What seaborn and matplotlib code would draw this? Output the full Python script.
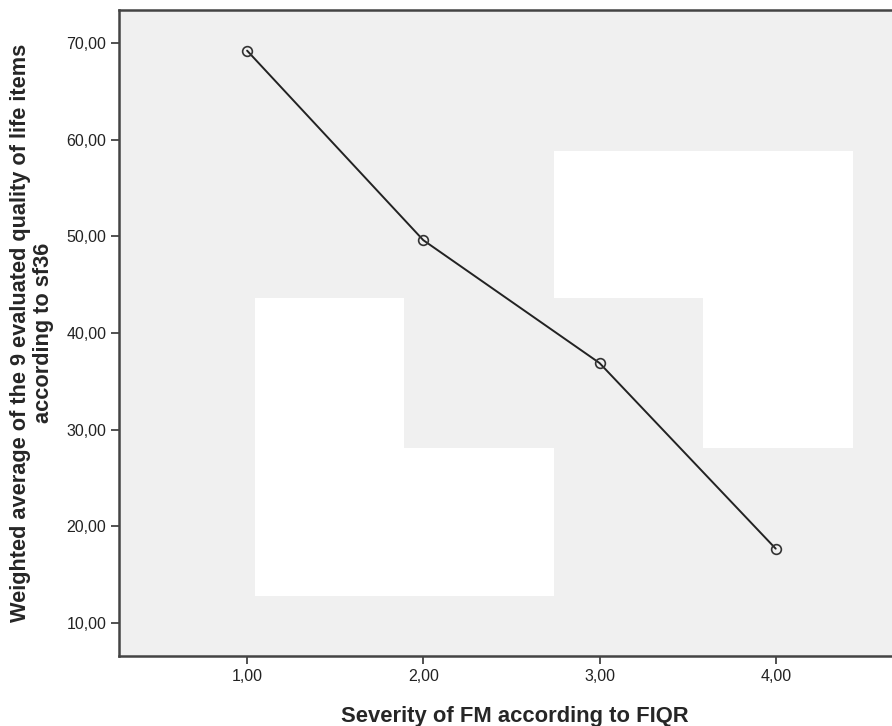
import matplotlib
matplotlib.use("Agg")
import matplotlib.pyplot as plt
import matplotlib.patches as mpatches
import pandas as pd
import seaborn as sns

# data
severity = [1.0, 2.0, 3.0, 4.0]
quality = [69.2, 49.6, 36.9, 17.7]
x_ticks = [1.0, 2.0, 3.0, 4.0]
y_ticks = [10.0, 20.0, 30.0, 40.0, 50.0, 60.0, 70.0]

sns.set_theme(style="white")
plt.rcParams['font.family'] = ['Liberation Sans', 'DejaVu Sans']

df = pd.DataFrame({"severity": severity, "quality": quality})

fig = plt.figure(figsize=(8.92, 7.26), dpi=100)
ax = fig.add_axes([0.1334, 0.0964, 0.8666, 0.8898])
ax.set_facecolor("#f0f0f0")

# white blank patches in the plot area (as in the source image)
for (x0, y0, w, h) in [(1.045, 12.8, 0.845, 30.8), (1.89, 12.8, 0.85, 15.3),
                       (2.74, 43.6, 1.70, 15.2), (3.59, 28.1, 0.85, 15.5)]:
    ax.add_patch(mpatches.Rectangle((x0, y0), w, h, facecolor="white",
                                    edgecolor="none", zorder=0.5))

sns.lineplot(data=df, x="severity", y="quality", ax=ax, color="#222222",
             linewidth=1.4, marker="o", markersize=7, markerfacecolor="none",
             markeredgecolor="#333333", markeredgewidth=1.2, zorder=3)

ax.set_xlim(0.273, 4.66)
ax.set_ylim(6.6, 73.4)
ax.set_xticks(x_ticks)
ax.set_yticks(y_ticks)
ax.set_xticklabels([f"{v:.2f}".replace(".", ",") for v in x_ticks])
ax.set_yticklabels([f"{v:.2f}".replace(".", ",") for v in y_ticks])
ax.tick_params(axis="both", which="major", direction="out", length=6, width=1.2,
               color="#333333", labelsize=11.5, labelcolor="#222222", pad=3,
               bottom=True, left=True)

for side in ["left", "bottom", "top"]:
    ax.spines[side].set_color("#444444")
    ax.spines[side].set_linewidth(1.8)
ax.spines["right"].set_visible(False)

ax.set_xlabel("Severity of FM according to FIQR", fontsize=15.8,
              fontweight="bold", labelpad=16)
ax.xaxis.label.set_x(0.512)
ax.set_ylabel("Weighted average of the 9 evaluated quality of life items\naccording to sf36",
              fontsize=15.7, fontweight="bold", labelpad=9, linespacing=1.1)

fig.savefig("out.png", dpi=100)
